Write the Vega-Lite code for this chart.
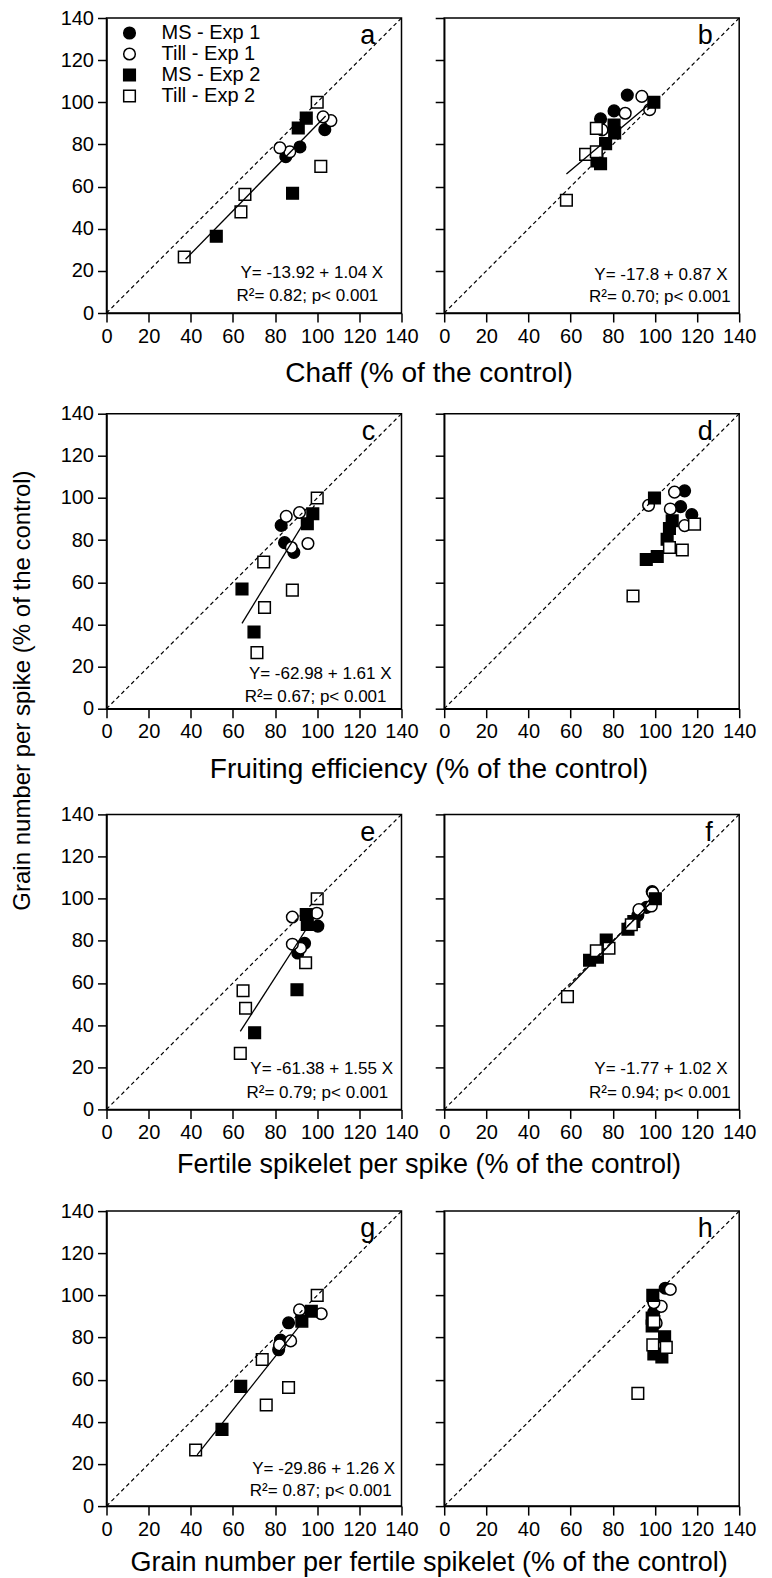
{
  "$schema": "https://vega.github.io/schema/vega-lite/v6.json",
  "padding": {"left": 10.5, "top": 7, "right": 10, "bottom": 5},
  "background": "white",
  "title": {"text": "Grain number per spike (% of the control)", "orient": "left", "anchor": "middle", "offset": 24.5, "dx": 101, "fontSize": 24},
  "datasets": {
    "pts": [
      {"p":"a","s":"MS - Exp 1","x":85.1,"y":74.2},{"p":"a","s":"MS - Exp 1","x":91.8,"y":78.8},{"p":"a","s":"MS - Exp 1","x":103.6,"y":87.0},
      {"p":"a","s":"Till - Exp 1","x":87.0,"y":76.5},{"p":"a","s":"Till - Exp 1","x":82.3,"y":78.4},{"p":"a","s":"Till - Exp 1","x":106.5,"y":91.3},{"p":"a","s":"Till - Exp 1","x":102.8,"y":93.1},
      {"p":"a","s":"MS - Exp 2","x":52.1,"y":36.4},{"p":"a","s":"MS - Exp 2","x":88.3,"y":56.8},{"p":"a","s":"MS - Exp 2","x":91.0,"y":87.8},{"p":"a","s":"MS - Exp 2","x":94.8,"y":92.5},
      {"p":"a","s":"Till - Exp 2","x":36.9,"y":26.6},{"p":"a","s":"Till - Exp 2","x":63.8,"y":48.0},{"p":"a","s":"Till - Exp 2","x":65.7,"y":56.3},{"p":"a","s":"Till - Exp 2","x":101.7,"y":69.6},{"p":"a","s":"Till - Exp 2","x":100,"y":100},

      {"p":"b","s":"MS - Exp 1","x":74.2,"y":92.1},{"p":"b","s":"MS - Exp 1","x":80.6,"y":95.9},{"p":"b","s":"MS - Exp 1","x":86.9,"y":103.4},
      {"p":"b","s":"Till - Exp 1","x":74.9,"y":86.9},{"p":"b","s":"Till - Exp 1","x":85.9,"y":94.8},{"p":"b","s":"Till - Exp 1","x":97.5,"y":96.5},{"p":"b","s":"Till - Exp 1","x":93.8,"y":102.8},
      {"p":"b","s":"MS - Exp 2","x":74.2,"y":70.8},{"p":"b","s":"MS - Exp 2","x":72.5,"y":72.2},{"p":"b","s":"MS - Exp 2","x":76.6,"y":80.4},{"p":"b","s":"MS - Exp 2","x":80.9,"y":85.5},{"p":"b","s":"MS - Exp 2","x":80.6,"y":89.2},{"p":"b","s":"MS - Exp 2","x":99.5,"y":100},
      {"p":"b","s":"Till - Exp 2","x":58.0,"y":53.5},{"p":"b","s":"Till - Exp 2","x":67.1,"y":75.3},{"p":"b","s":"Till - Exp 2","x":72.2,"y":76.5},{"p":"b","s":"Till - Exp 2","x":72.2,"y":87.6},

      {"p":"c","s":"MS - Exp 1","x":88.9,"y":74.2},{"p":"c","s":"MS - Exp 1","x":84.5,"y":78.8},{"p":"c","s":"MS - Exp 1","x":82.9,"y":87.0},
      {"p":"c","s":"Till - Exp 1","x":87.7,"y":76.5},{"p":"c","s":"Till - Exp 1","x":95.6,"y":78.4},{"p":"c","s":"Till - Exp 1","x":85.3,"y":91.3},{"p":"c","s":"Till - Exp 1","x":91.6,"y":93.1},
      {"p":"c","s":"MS - Exp 2","x":70.0,"y":36.4},{"p":"c","s":"MS - Exp 2","x":64.3,"y":56.8},{"p":"c","s":"MS - Exp 2","x":95.3,"y":87.8},{"p":"c","s":"MS - Exp 2","x":97.9,"y":92.5},
      {"p":"c","s":"Till - Exp 2","x":71.4,"y":26.6},{"p":"c","s":"Till - Exp 2","x":75.0,"y":48.0},{"p":"c","s":"Till - Exp 2","x":88.2,"y":56.3},{"p":"c","s":"Till - Exp 2","x":74.6,"y":69.6},{"p":"c","s":"Till - Exp 2","x":100,"y":100},

      {"p":"d","s":"MS - Exp 1","x":117.5,"y":92.1},{"p":"d","s":"MS - Exp 1","x":112.2,"y":95.9},{"p":"d","s":"MS - Exp 1","x":114.1,"y":103.4},
      {"p":"d","s":"Till - Exp 1","x":114.1,"y":86.9},{"p":"d","s":"Till - Exp 1","x":107.3,"y":94.8},{"p":"d","s":"Till - Exp 1","x":97.0,"y":96.5},{"p":"d","s":"Till - Exp 1","x":109.3,"y":102.8},
      {"p":"d","s":"MS - Exp 2","x":95.9,"y":70.8},{"p":"d","s":"MS - Exp 2","x":101.1,"y":72.2},{"p":"d","s":"MS - Exp 2","x":105.8,"y":80.4},{"p":"d","s":"MS - Exp 2","x":106.9,"y":85.5},{"p":"d","s":"MS - Exp 2","x":108.2,"y":89.2},{"p":"d","s":"MS - Exp 2","x":99.8,"y":100},
      {"p":"d","s":"Till - Exp 2","x":89.6,"y":53.5},{"p":"d","s":"Till - Exp 2","x":113.0,"y":75.3},{"p":"d","s":"Till - Exp 2","x":106.9,"y":76.5},{"p":"d","s":"Till - Exp 2","x":118.8,"y":87.6},

      {"p":"e","s":"MS - Exp 1","x":90.8,"y":74.2},{"p":"e","s":"MS - Exp 1","x":94.0,"y":78.8},{"p":"e","s":"MS - Exp 1","x":100.3,"y":87.0},
      {"p":"e","s":"Till - Exp 1","x":92.1,"y":76.5},{"p":"e","s":"Till - Exp 1","x":88.2,"y":78.4},{"p":"e","s":"Till - Exp 1","x":88.2,"y":91.3},{"p":"e","s":"Till - Exp 1","x":99.8,"y":93.1},
      {"p":"e","s":"MS - Exp 2","x":70.3,"y":36.4},{"p":"e","s":"MS - Exp 2","x":90.4,"y":56.8},{"p":"e","s":"MS - Exp 2","x":95.3,"y":87.8},{"p":"e","s":"MS - Exp 2","x":94.8,"y":92.5},
      {"p":"e","s":"Till - Exp 2","x":63.5,"y":26.6},{"p":"e","s":"Till - Exp 2","x":66.0,"y":48.0},{"p":"e","s":"Till - Exp 2","x":64.8,"y":56.3},{"p":"e","s":"Till - Exp 2","x":94.5,"y":69.6},{"p":"e","s":"Till - Exp 2","x":100,"y":100},

      {"p":"f","s":"MS - Exp 1","x":91.9,"y":92.1},{"p":"f","s":"MS - Exp 1","x":96.0,"y":95.9},{"p":"f","s":"MS - Exp 1","x":98.7,"y":103.4},
      {"p":"f","s":"Till - Exp 1","x":88.0,"y":86.9},{"p":"f","s":"Till - Exp 1","x":92.4,"y":94.8},{"p":"f","s":"Till - Exp 1","x":98.3,"y":96.5},{"p":"f","s":"Till - Exp 1","x":99.0,"y":102.8},
      {"p":"f","s":"MS - Exp 2","x":69.0,"y":70.8},{"p":"f","s":"MS - Exp 2","x":72.7,"y":72.2},{"p":"f","s":"MS - Exp 2","x":76.9,"y":80.4},{"p":"f","s":"MS - Exp 2","x":87.2,"y":85.5},{"p":"f","s":"MS - Exp 2","x":90.0,"y":89.2},{"p":"f","s":"MS - Exp 2","x":100.2,"y":100},
      {"p":"f","s":"Till - Exp 2","x":58.5,"y":53.5},{"p":"f","s":"Till - Exp 2","x":72.2,"y":75.3},{"p":"f","s":"Till - Exp 2","x":78.2,"y":76.5},{"p":"f","s":"Till - Exp 2","x":88.8,"y":87.6},

      {"p":"g","s":"MS - Exp 1","x":81.7,"y":74.2},{"p":"g","s":"MS - Exp 1","x":82.6,"y":78.8},{"p":"g","s":"MS - Exp 1","x":86.4,"y":87.0},
      {"p":"g","s":"Till - Exp 1","x":82.1,"y":76.5},{"p":"g","s":"Till - Exp 1","x":87.4,"y":78.4},{"p":"g","s":"Till - Exp 1","x":101.9,"y":91.3},{"p":"g","s":"Till - Exp 1","x":91.6,"y":93.1},
      {"p":"g","s":"MS - Exp 2","x":54.8,"y":36.4},{"p":"g","s":"MS - Exp 2","x":63.7,"y":56.8},{"p":"g","s":"MS - Exp 2","x":92.7,"y":87.8},{"p":"g","s":"MS - Exp 2","x":97.2,"y":92.5},
      {"p":"g","s":"Till - Exp 2","x":42.3,"y":26.6},{"p":"g","s":"Till - Exp 2","x":75.8,"y":48.0},{"p":"g","s":"Till - Exp 2","x":86.4,"y":56.3},{"p":"g","s":"Till - Exp 2","x":73.9,"y":69.6},{"p":"g","s":"Till - Exp 2","x":100,"y":100},

      {"p":"h","s":"MS - Exp 1","x":99.5,"y":92.1},{"p":"h","s":"MS - Exp 1","x":100.0,"y":95.9},{"p":"h","s":"MS - Exp 1","x":104.9,"y":103.4},
      {"p":"h","s":"Till - Exp 1","x":100.6,"y":86.9},{"p":"h","s":"Till - Exp 1","x":103.0,"y":94.8},{"p":"h","s":"Till - Exp 1","x":99.5,"y":96.5},{"p":"h","s":"Till - Exp 1","x":107.3,"y":102.8},
      {"p":"h","s":"MS - Exp 2","x":103.3,"y":70.8},{"p":"h","s":"MS - Exp 2","x":99.5,"y":72.2},{"p":"h","s":"MS - Exp 2","x":104.6,"y":80.4},{"p":"h","s":"MS - Exp 2","x":98.7,"y":85.5},{"p":"h","s":"MS - Exp 2","x":98.7,"y":89.2},{"p":"h","s":"MS - Exp 2","x":99.0,"y":100},
      {"p":"h","s":"Till - Exp 2","x":91.9,"y":53.5},{"p":"h","s":"Till - Exp 2","x":105.4,"y":75.3},{"p":"h","s":"Till - Exp 2","x":99.0,"y":76.5},{"p":"h","s":"Till - Exp 2","x":99.5,"y":87.6}
    ],
    "diag": [{"x":0,"y":0,"x2":140,"y2":140}],
    "fit": [
      {"p":"a","x":37.5,"y":25.5,"x2":104,"y2":93.5},
      {"p":"b","x":58,"y":66,"x2":99,"y2":100.5},
      {"p":"c","x":64.3,"y":40.5,"x2":98.7,"y2":96.5},
      {"p":"e","x":63.5,"y":37,"x2":96,"y2":87.4},
      {"p":"f","x":59,"y":58,"x2":101,"y2":101.3},
      {"p":"g","x":43,"y":24.3,"x2":98,"y2":93.6}
    ],
    "eqs": [
      {"p":"a","x":131.3,"y":16.8,"t":"Y= -13.92 + 1.04 X"},{"p":"a","x":129,"y":5.7,"t":"R²= 0.82; p< 0.001"},
      {"p":"b","x":134.5,"y":15.5,"t":"Y= -17.8 + 0.87 X"},{"p":"b","x":136,"y":5.2,"t":"R²= 0.70; p< 0.001"},
      {"p":"c","x":135.3,"y":14.2,"t":"Y= -62.98 + 1.61 X"},{"p":"c","x":132.9,"y":3.1,"t":"R²= 0.67; p< 0.001"},
      {"p":"e","x":136,"y":16.6,"t":"Y= -61.38 + 1.55 X"},{"p":"e","x":133.7,"y":5.5,"t":"R²= 0.79; p< 0.001"},
      {"p":"f","x":134.5,"y":16.6,"t":"Y= -1.77 + 1.02 X"},{"p":"f","x":136,"y":5.5,"t":"R²= 0.94; p< 0.001"},
      {"p":"g","x":136.9,"y":15.4,"t":"Y= -29.86 + 1.26 X"},{"p":"g","x":135.3,"y":5,"t":"R²= 0.87; p< 0.001"}
    ],
    "letters": [
      {"p":"a","x":127.5,"y":127.5,"t":"a"},{"p":"b","x":127.5,"y":127.5,"t":"b"},
      {"p":"c","x":127.5,"y":127.5,"t":"c"},{"p":"d","x":127.5,"y":127.5,"t":"d"},
      {"p":"e","x":127.5,"y":127.5,"t":"e"},{"p":"f","x":127.5,"y":127.5,"t":"f"},
      {"p":"g","x":127.5,"y":127.5,"t":"g"},{"p":"h","x":127.5,"y":127.5,"t":"h"}
    ]
  },
  "vconcat": [
    {
      "title": {"text": "Chaff (% of the control)", "orient": "bottom", "anchor": "middle", "frame": "bounds", "dx": 21, "offset": 13.5},
      "bounds": "flush",
      "hconcat": [
        {"width":295,"height":295,
         "encoding":{"x":{"field":"x","type":"quantitative","scale":{"domain":[0,140],"nice":false},"axis":{"title":null}},
                     "y":{"field":"y","type":"quantitative","scale":{"domain":[0,140],"nice":false},"axis":{"title":null}}},
         "layer":[
          {"data":{"name":"pts"},"transform":[{"filter":"datum.p == 'a'"}],"mark":{"type":"point","strokeWidth":1.5,"size":135,"opacity":1,"fillOpacity":1},
           "encoding":{"fill":{"field":"s","type":"nominal","title":null,"scale":{"domain":["MS - Exp 1","Till - Exp 1","MS - Exp 2","Till - Exp 2"],"range":["black","white","black","white"]}},
                       "stroke":{"field":"s","type":"nominal","title":null,"scale":{"domain":["MS - Exp 1","Till - Exp 1","MS - Exp 2","Till - Exp 2"],"range":["black","black","black","black"]}},
                       "shape":{"field":"s","type":"nominal","title":null,"scale":{"domain":["MS - Exp 1","Till - Exp 1","MS - Exp 2","Till - Exp 2"],"range":["circle","circle","square","square"]}}}},
          {"data":{"name":"diag"},"mark":{"type":"rule","color":"black","strokeWidth":1.2,"strokeDash":[4,3]},"encoding":{"x2":{"field":"x2"},"y2":{"field":"y2"}}},
          {"data":{"name":"fit"},"transform":[{"filter":"datum.p == 'a'"}],"mark":{"type":"rule","color":"black","strokeWidth":1.3},"encoding":{"x2":{"field":"x2"},"y2":{"field":"y2"}}},
          {"data":{"name":"eqs"},"transform":[{"filter":"datum.p == 'a'"}],"mark":{"type":"text","align":"right","baseline":"alphabetic","fontSize":17,"color":"black"},"encoding":{"text":{"field":"t"}}},
          {"data":{"name":"letters"},"transform":[{"filter":"datum.p == 'a'"}],"mark":{"type":"text","align":"right","baseline":"alphabetic","fontSize":27,"color":"black"},"encoding":{"text":{"field":"t"}}}
         ]},
        {"width":295,"height":295,
         "encoding":{"x":{"field":"x","type":"quantitative","scale":{"domain":[0,140],"nice":false},"axis":{"title":null}},
                     "y":{"field":"y","type":"quantitative","scale":{"domain":[0,140],"nice":false},"axis":{"title":null,"labels":false}}},
         "layer":[
          {"data":{"name":"pts"},"transform":[{"filter":"datum.p == 'b'"}],"mark":{"type":"point","strokeWidth":1.5,"size":135,"opacity":1,"fillOpacity":1},
           "encoding":{"fill":{"field":"s","type":"nominal","title":null,"scale":{"domain":["MS - Exp 1","Till - Exp 1","MS - Exp 2","Till - Exp 2"],"range":["black","white","black","white"]}},
                       "stroke":{"field":"s","type":"nominal","title":null,"scale":{"domain":["MS - Exp 1","Till - Exp 1","MS - Exp 2","Till - Exp 2"],"range":["black","black","black","black"]}},
                       "shape":{"field":"s","type":"nominal","title":null,"scale":{"domain":["MS - Exp 1","Till - Exp 1","MS - Exp 2","Till - Exp 2"],"range":["circle","circle","square","square"]}}}},
          {"data":{"name":"diag"},"mark":{"type":"rule","color":"black","strokeWidth":1.2,"strokeDash":[4,3]},"encoding":{"x2":{"field":"x2"},"y2":{"field":"y2"}}},
          {"data":{"name":"fit"},"transform":[{"filter":"datum.p == 'b'"}],"mark":{"type":"rule","color":"black","strokeWidth":1.3},"encoding":{"x2":{"field":"x2"},"y2":{"field":"y2"}}},
          {"data":{"name":"eqs"},"transform":[{"filter":"datum.p == 'b'"}],"mark":{"type":"text","align":"right","baseline":"alphabetic","fontSize":17,"color":"black"},"encoding":{"text":{"field":"t"}}},
          {"data":{"name":"letters"},"transform":[{"filter":"datum.p == 'b'"}],"mark":{"type":"text","align":"right","baseline":"alphabetic","fontSize":27,"color":"black"},"encoding":{"text":{"field":"t"}}}
         ]}
      ]
    },
    {
      "title": {"text": "Fruiting efficiency (% of the control)", "orient": "bottom", "anchor": "middle", "frame": "bounds", "dx": 21, "offset": 13.5, "subtitle": " ", "subtitleFontSize": 5, "subtitlePadding": 0},
      "bounds": "flush",
      "hconcat": [
        {"width":295,"height":295,
         "encoding":{"x":{"field":"x","type":"quantitative","scale":{"domain":[0,140],"nice":false},"axis":{"title":null}},
                     "y":{"field":"y","type":"quantitative","scale":{"domain":[0,140],"nice":false},"axis":{"title":null}}},
         "layer":[
          {"data":{"name":"pts"},"transform":[{"filter":"datum.p == 'c'"}],"mark":{"type":"point","strokeWidth":1.5,"size":135,"opacity":1,"fillOpacity":1},
           "encoding":{"fill":{"field":"s","type":"nominal","title":null,"scale":{"domain":["MS - Exp 1","Till - Exp 1","MS - Exp 2","Till - Exp 2"],"range":["black","white","black","white"]}},
                       "stroke":{"field":"s","type":"nominal","title":null,"scale":{"domain":["MS - Exp 1","Till - Exp 1","MS - Exp 2","Till - Exp 2"],"range":["black","black","black","black"]}},
                       "shape":{"field":"s","type":"nominal","title":null,"scale":{"domain":["MS - Exp 1","Till - Exp 1","MS - Exp 2","Till - Exp 2"],"range":["circle","circle","square","square"]}}}},
          {"data":{"name":"diag"},"mark":{"type":"rule","color":"black","strokeWidth":1.2,"strokeDash":[4,3]},"encoding":{"x2":{"field":"x2"},"y2":{"field":"y2"}}},
          {"data":{"name":"fit"},"transform":[{"filter":"datum.p == 'c'"}],"mark":{"type":"rule","color":"black","strokeWidth":1.3},"encoding":{"x2":{"field":"x2"},"y2":{"field":"y2"}}},
          {"data":{"name":"eqs"},"transform":[{"filter":"datum.p == 'c'"}],"mark":{"type":"text","align":"right","baseline":"alphabetic","fontSize":17,"color":"black"},"encoding":{"text":{"field":"t"}}},
          {"data":{"name":"letters"},"transform":[{"filter":"datum.p == 'c'"}],"mark":{"type":"text","align":"right","baseline":"alphabetic","fontSize":27,"color":"black"},"encoding":{"text":{"field":"t"}}}
         ]},
        {"width":295,"height":295,
         "encoding":{"x":{"field":"x","type":"quantitative","scale":{"domain":[0,140],"nice":false},"axis":{"title":null}},
                     "y":{"field":"y","type":"quantitative","scale":{"domain":[0,140],"nice":false},"axis":{"title":null,"labels":false}}},
         "layer":[
          {"data":{"name":"pts"},"transform":[{"filter":"datum.p == 'd'"}],"mark":{"type":"point","strokeWidth":1.5,"size":135,"opacity":1,"fillOpacity":1},
           "encoding":{"fill":{"field":"s","type":"nominal","title":null,"scale":{"domain":["MS - Exp 1","Till - Exp 1","MS - Exp 2","Till - Exp 2"],"range":["black","white","black","white"]}},
                       "stroke":{"field":"s","type":"nominal","title":null,"scale":{"domain":["MS - Exp 1","Till - Exp 1","MS - Exp 2","Till - Exp 2"],"range":["black","black","black","black"]}},
                       "shape":{"field":"s","type":"nominal","title":null,"scale":{"domain":["MS - Exp 1","Till - Exp 1","MS - Exp 2","Till - Exp 2"],"range":["circle","circle","square","square"]}}}},
          {"data":{"name":"diag"},"mark":{"type":"rule","color":"black","strokeWidth":1.2,"strokeDash":[4,3]},"encoding":{"x2":{"field":"x2"},"y2":{"field":"y2"}}},
          {"data":{"name":"letters"},"transform":[{"filter":"datum.p == 'd'"}],"mark":{"type":"text","align":"right","baseline":"alphabetic","fontSize":27,"color":"black"},"encoding":{"text":{"field":"t"}}}
         ]}
      ]
    },
    {
      "title": {"text": "Fertile spikelet per spike (% of the control)", "orient": "bottom", "anchor": "middle", "frame": "bounds", "dx": 21, "offset": 8.5, "fontSize": 27, "subtitle": " ", "subtitleFontSize": 7, "subtitlePadding": 0},
      "bounds": "flush",
      "hconcat": [
        {"width":295,"height":295,
         "encoding":{"x":{"field":"x","type":"quantitative","scale":{"domain":[0,140],"nice":false},"axis":{"title":null}},
                     "y":{"field":"y","type":"quantitative","scale":{"domain":[0,140],"nice":false},"axis":{"title":null}}},
         "layer":[
          {"data":{"name":"pts"},"transform":[{"filter":"datum.p == 'e'"}],"mark":{"type":"point","strokeWidth":1.5,"size":135,"opacity":1,"fillOpacity":1},
           "encoding":{"fill":{"field":"s","type":"nominal","title":null,"scale":{"domain":["MS - Exp 1","Till - Exp 1","MS - Exp 2","Till - Exp 2"],"range":["black","white","black","white"]}},
                       "stroke":{"field":"s","type":"nominal","title":null,"scale":{"domain":["MS - Exp 1","Till - Exp 1","MS - Exp 2","Till - Exp 2"],"range":["black","black","black","black"]}},
                       "shape":{"field":"s","type":"nominal","title":null,"scale":{"domain":["MS - Exp 1","Till - Exp 1","MS - Exp 2","Till - Exp 2"],"range":["circle","circle","square","square"]}}}},
          {"data":{"name":"diag"},"mark":{"type":"rule","color":"black","strokeWidth":1.2,"strokeDash":[4,3]},"encoding":{"x2":{"field":"x2"},"y2":{"field":"y2"}}},
          {"data":{"name":"fit"},"transform":[{"filter":"datum.p == 'e'"}],"mark":{"type":"rule","color":"black","strokeWidth":1.3},"encoding":{"x2":{"field":"x2"},"y2":{"field":"y2"}}},
          {"data":{"name":"eqs"},"transform":[{"filter":"datum.p == 'e'"}],"mark":{"type":"text","align":"right","baseline":"alphabetic","fontSize":17,"color":"black"},"encoding":{"text":{"field":"t"}}},
          {"data":{"name":"letters"},"transform":[{"filter":"datum.p == 'e'"}],"mark":{"type":"text","align":"right","baseline":"alphabetic","fontSize":27,"color":"black"},"encoding":{"text":{"field":"t"}}}
         ]},
        {"width":295,"height":295,
         "encoding":{"x":{"field":"x","type":"quantitative","scale":{"domain":[0,140],"nice":false},"axis":{"title":null}},
                     "y":{"field":"y","type":"quantitative","scale":{"domain":[0,140],"nice":false},"axis":{"title":null,"labels":false}}},
         "layer":[
          {"data":{"name":"pts"},"transform":[{"filter":"datum.p == 'f'"}],"mark":{"type":"point","strokeWidth":1.5,"size":135,"opacity":1,"fillOpacity":1},
           "encoding":{"fill":{"field":"s","type":"nominal","title":null,"scale":{"domain":["MS - Exp 1","Till - Exp 1","MS - Exp 2","Till - Exp 2"],"range":["black","white","black","white"]}},
                       "stroke":{"field":"s","type":"nominal","title":null,"scale":{"domain":["MS - Exp 1","Till - Exp 1","MS - Exp 2","Till - Exp 2"],"range":["black","black","black","black"]}},
                       "shape":{"field":"s","type":"nominal","title":null,"scale":{"domain":["MS - Exp 1","Till - Exp 1","MS - Exp 2","Till - Exp 2"],"range":["circle","circle","square","square"]}}}},
          {"data":{"name":"diag"},"mark":{"type":"rule","color":"black","strokeWidth":1.2,"strokeDash":[4,3]},"encoding":{"x2":{"field":"x2"},"y2":{"field":"y2"}}},
          {"data":{"name":"fit"},"transform":[{"filter":"datum.p == 'f'"}],"mark":{"type":"rule","color":"black","strokeWidth":1.3},"encoding":{"x2":{"field":"x2"},"y2":{"field":"y2"}}},
          {"data":{"name":"eqs"},"transform":[{"filter":"datum.p == 'f'"}],"mark":{"type":"text","align":"right","baseline":"alphabetic","fontSize":17,"color":"black"},"encoding":{"text":{"field":"t"}}},
          {"data":{"name":"letters"},"transform":[{"filter":"datum.p == 'f'"}],"mark":{"type":"text","align":"right","baseline":"alphabetic","fontSize":27,"color":"black"},"encoding":{"text":{"field":"t"}}}
         ]}
      ]
    },
    {
      "title": {"text": "Grain number per fertile spikelet (% of the control)", "orient": "bottom", "anchor": "middle", "frame": "bounds", "dx": 21, "offset": 10, "fontSize": 27},
      "bounds": "flush",
      "hconcat": [
        {"width":295,"height":295,
         "encoding":{"x":{"field":"x","type":"quantitative","scale":{"domain":[0,140],"nice":false},"axis":{"title":null}},
                     "y":{"field":"y","type":"quantitative","scale":{"domain":[0,140],"nice":false},"axis":{"title":null}}},
         "layer":[
          {"data":{"name":"pts"},"transform":[{"filter":"datum.p == 'g'"}],"mark":{"type":"point","strokeWidth":1.5,"size":135,"opacity":1,"fillOpacity":1},
           "encoding":{"fill":{"field":"s","type":"nominal","title":null,"scale":{"domain":["MS - Exp 1","Till - Exp 1","MS - Exp 2","Till - Exp 2"],"range":["black","white","black","white"]}},
                       "stroke":{"field":"s","type":"nominal","title":null,"scale":{"domain":["MS - Exp 1","Till - Exp 1","MS - Exp 2","Till - Exp 2"],"range":["black","black","black","black"]}},
                       "shape":{"field":"s","type":"nominal","title":null,"scale":{"domain":["MS - Exp 1","Till - Exp 1","MS - Exp 2","Till - Exp 2"],"range":["circle","circle","square","square"]}}}},
          {"data":{"name":"diag"},"mark":{"type":"rule","color":"black","strokeWidth":1.2,"strokeDash":[4,3]},"encoding":{"x2":{"field":"x2"},"y2":{"field":"y2"}}},
          {"data":{"name":"fit"},"transform":[{"filter":"datum.p == 'g'"}],"mark":{"type":"rule","color":"black","strokeWidth":1.3},"encoding":{"x2":{"field":"x2"},"y2":{"field":"y2"}}},
          {"data":{"name":"eqs"},"transform":[{"filter":"datum.p == 'g'"}],"mark":{"type":"text","align":"right","baseline":"alphabetic","fontSize":17,"color":"black"},"encoding":{"text":{"field":"t"}}},
          {"data":{"name":"letters"},"transform":[{"filter":"datum.p == 'g'"}],"mark":{"type":"text","align":"right","baseline":"alphabetic","fontSize":27,"color":"black"},"encoding":{"text":{"field":"t"}}}
         ]},
        {"width":295,"height":295,
         "encoding":{"x":{"field":"x","type":"quantitative","scale":{"domain":[0,140],"nice":false},"axis":{"title":null}},
                     "y":{"field":"y","type":"quantitative","scale":{"domain":[0,140],"nice":false},"axis":{"title":null,"labels":false}}},
         "layer":[
          {"data":{"name":"pts"},"transform":[{"filter":"datum.p == 'h'"}],"mark":{"type":"point","strokeWidth":1.5,"size":135,"opacity":1,"fillOpacity":1},
           "encoding":{"fill":{"field":"s","type":"nominal","title":null,"scale":{"domain":["MS - Exp 1","Till - Exp 1","MS - Exp 2","Till - Exp 2"],"range":["black","white","black","white"]}},
                       "stroke":{"field":"s","type":"nominal","title":null,"scale":{"domain":["MS - Exp 1","Till - Exp 1","MS - Exp 2","Till - Exp 2"],"range":["black","black","black","black"]}},
                       "shape":{"field":"s","type":"nominal","title":null,"scale":{"domain":["MS - Exp 1","Till - Exp 1","MS - Exp 2","Till - Exp 2"],"range":["circle","circle","square","square"]}}}},
          {"data":{"name":"diag"},"mark":{"type":"rule","color":"black","strokeWidth":1.2,"strokeDash":[4,3]},"encoding":{"x2":{"field":"x2"},"y2":{"field":"y2"}}},
          {"data":{"name":"letters"},"transform":[{"filter":"datum.p == 'h'"}],"mark":{"type":"text","align":"right","baseline":"alphabetic","fontSize":27,"color":"black"},"encoding":{"text":{"field":"t"}}}
         ]}
      ]
    }
  ],
  "spacing": 13.7,
  "config": {
    "font": "Liberation Sans",
    "concat": {"spacing": 42.7},
    "view": {"stroke": "black", "strokeWidth": 1.5},
    "axis": {"grid": false, "domainColor": "black", "domainWidth": 1.5, "tickColor": "black", "tickWidth": 1.5, "tickSize": 9, "labelFontSize": 20, "labelColor": "black", "labelPadding": 4, "labelFlush": false, "labelOverlap": false, "tickCount": 7, "titleFontSize": 27, "titleFontWeight": "normal", "titleColor": "black"},
    "title": {"fontSize": 28, "fontWeight": "normal", "color": "black", "font": "Liberation Sans"},
    "legend": {"orient": "none", "legendX": 13, "legendY": 5, "labelFontSize": 20, "labelColor": "black", "symbolSize": 135, "symbolStrokeWidth": 1.5, "rowPadding": 1, "labelOffset": 22, "padding": 0}
  }
}
